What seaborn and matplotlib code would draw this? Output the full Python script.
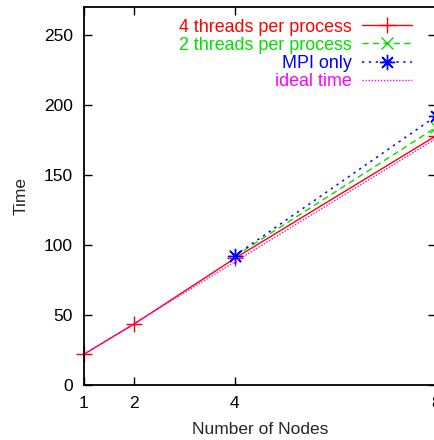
import numpy as np
import pandas as pd
import matplotlib
matplotlib.use("Agg")
import matplotlib.pyplot as plt
import seaborn as sns

# Data
nodes_4t = [1, 2, 4, 8]
time_4t = [22, 43.6, 90.5, 178]
nodes_2t = [4, 8]
time_2t = [92, 184]
nodes_mpi = [4, 8]
time_mpi = [92.4, 192]
nodes_ideal = [1, 2, 4, 8]
time_ideal = [22, 44, 88, 176]

labels = ["4 threads per process", "2 threads per process", "MPI only", "ideal time"]
colors = ["#ff0000", "#00e000", "#0000ff", "#ff00ff"]

sns.set_style("ticks")
plt.rcParams["font.family"] = ["Liberation Sans", "DejaVu Sans"]

fig = plt.figure(figsize=(4.35, 4.40), dpi=100)
W, H = 435, 440
ax = fig.add_axes([84 / W, 1 - 385 / H, (436 - 84) / W, (385 - 7) / H])

series = [
    (nodes_4t, time_4t, dict(linestyle="-", marker="+", markersize=11, linewidth=1.0)),
    (nodes_2t, time_2t, dict(linestyle=(0, (4.5, 3)), marker="x", markersize=8, linewidth=1.0)),
    (nodes_mpi, time_mpi, dict(linestyle=(0, (1.5, 3)), marker=(8, 2, 0), markersize=11, linewidth=1.1)),
    (nodes_ideal, time_ideal, dict(linestyle=(0, (1, 1.2)), marker=None, linewidth=1.0)),
]
for (xs, ys, kw), lab, col in zip(series, labels, colors):
    df = pd.DataFrame({"Number of Nodes": xs, "Time": ys})
    sns.lineplot(data=df, x="Number of Nodes", y="Time", ax=ax, color=col, label=lab,
                 markeredgecolor=col, markeredgewidth=1.0, clip_on=False, **kw)

ax.set_xlim(1, 8)
ax.set_ylim(0, 270)
ax.set_xticks([1, 2, 4, 8])
ax.set_yticks([0, 50, 100, 150, 200, 250])
ax.tick_params(direction="in", length=6, width=1, top=True, right=True, labelsize=12.5, pad=8,
               colors="black")
for s in ax.spines.values():
    s.set_linewidth(1.3)
    s.set_color("black")
ax.set_xlabel("Number of Nodes", fontsize=12.5, labelpad=8)
ax.set_ylabel("Time", fontsize=12.5, labelpad=11)

leg = ax.legend(loc="upper right", bbox_to_anchor=((424 - 84) / (436 - 84), 1.0), frameon=False,
                markerfirst=False, labelcolor="linecolor", fontsize=12.9, handlelength=2.8,
                labelspacing=0.06, handletextpad=0.6, borderaxespad=0.25)
for vp in leg._legend_handle_box.get_children():
    vp.align = "right"

fig.savefig("out.png", dpi=100)
